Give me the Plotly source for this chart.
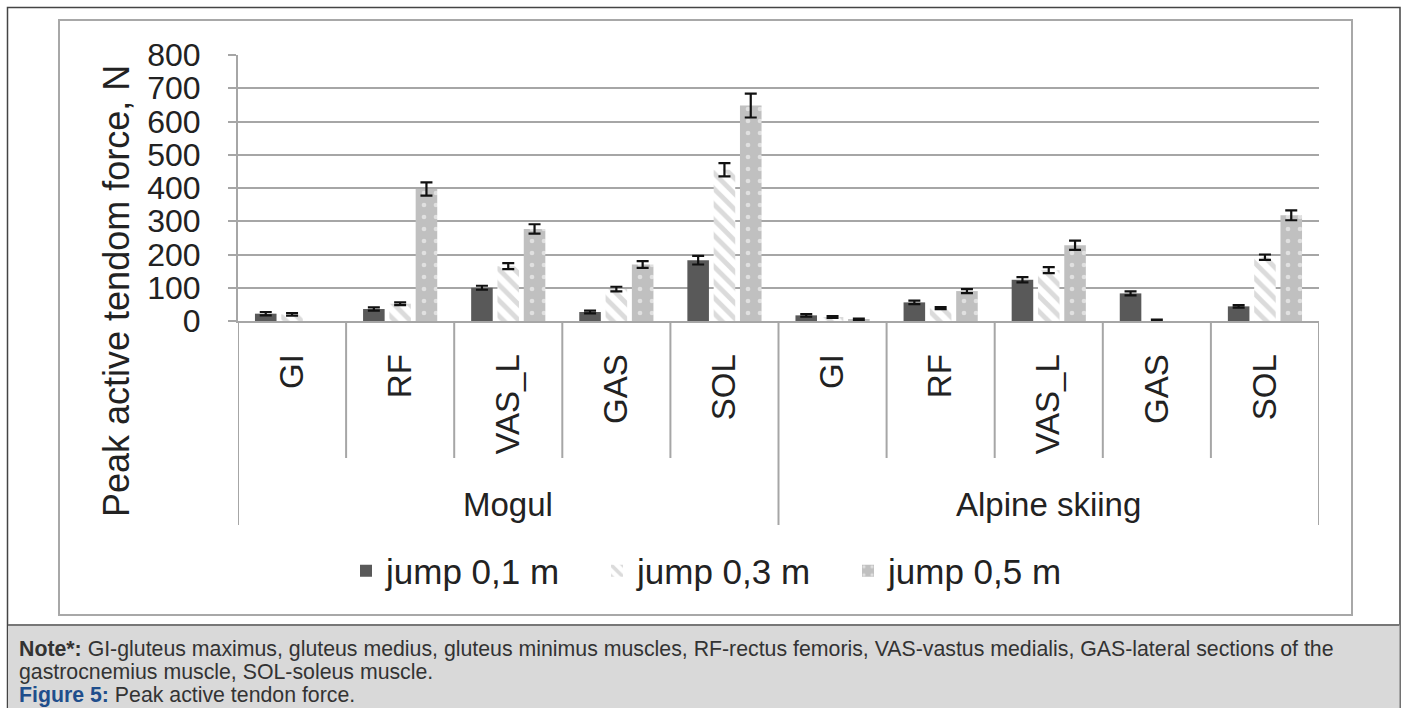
import plotly.graph_objects as go

# ---- data ----
groups = ["Mogul", "Alpine skiing"]
muscles = ["GI", "RF", "VAS_L", "GAS", "SOL"]
categories = muscles + muscles
series_names = ["jump 0,1 m", "jump 0,3 m", "jump 0,5 m"]

jump_01 = [22, 36, 100, 27, 183, 17, 56, 124, 83, 44]
jump_03 = [20, 52, 165, 96, 455, 12, 39, 153, 3, 192]
jump_05 = [None, 397, 277, 170, 648, 5, 90, 228, None, 318]

err_01 = [5, 5, 6, 4, 13, 4, 5, 8, 6, 4]
err_03 = [4, 4, 9, 7, 20, 3, 3, 9, 1, 8]
err_05 = [0, 20, 14, 10, 36, 2, 6, 14, 0, 15]

y_ticks = [0, 100, 200, 300, 400, 500, 600, 700, 800]

# ---- layout geometry (pixels) ----
W, H = 1402, 708
PL, PR, PT, PB = 238, 1319, 55, 321  # plot area


def px2x(px):
    return (px - PL) / (PR - PL)


def py2y(py):
    return (PB - py) / (PB - PT)


FONT = "Liberation Sans, Arial, sans-serif"
TXT = "#222222"
GRID = "#a6a6a6"

xpos = list(range(len(categories)))
ERR = dict(type="data", color="#111111", thickness=2.2, width=6)

fig = go.Figure()

fig.add_trace(go.Bar(
    name=series_names[0], x=xpos, y=jump_01,
    marker=dict(color="#595959", line=dict(width=0)),
    error_y=dict(ERR, array=err_01),
))
fig.add_trace(go.Bar(
    name=series_names[1], x=xpos, y=jump_03,
    marker=dict(color="#ffffff", line=dict(width=0),
                pattern=dict(shape="\\", bgcolor="#ffffff", fgcolor="#b8b8b8",
                             size=11, solidity=0.45)),
    error_y=dict(ERR, array=err_03),
))
fig.add_trace(go.Bar(
    name=series_names[2], x=xpos, y=jump_05,
    marker=dict(color="#c0c0c0", line=dict(width=0),
                pattern=dict(shape=".", bgcolor="#c0c0c0", fgcolor="#ffffff",
                             size=12, solidity=0.12)),
    error_y=dict(ERR, array=err_05),
))

shapes = []
# outer figure border
shapes.append(dict(type="rect", xref="paper", yref="paper",
                   x0=px2x(7.5), x1=px2x(1400), y0=py2y(7.5), y1=py2y(720),
                   line=dict(color="#444444", width=1.5), fillcolor="rgba(0,0,0,0)",
                   layer="below"))
# caption background
shapes.append(dict(type="rect", xref="paper", yref="paper",
                   x0=px2x(8), x1=px2x(1399.5), y0=py2y(625), y1=py2y(720),
                   line=dict(width=0), fillcolor="#d9d9d9", layer="below"))
shapes.append(dict(type="line", xref="paper", yref="paper",
                   x0=px2x(8), x1=px2x(1399.5), y0=py2y(625), y1=py2y(625),
                   line=dict(color="#777777", width=2), layer="below"))
# inner chart frame
shapes.append(dict(type="rect", xref="paper", yref="paper",
                   x0=px2x(59), x1=px2x(1352), y0=py2y(20), y1=py2y(615),
                   line=dict(color="#a8a8a8", width=2), fillcolor="rgba(0,0,0,0)",
                   layer="below"))
# category separators
for k in range(len(categories) + 1):
    xb = k - 0.5
    long = (k % len(muscles) == 0)
    shapes.append(dict(type="line", xref="x", yref="paper",
                       x0=xb, x1=xb, y0=0, y1=py2y(525 if long else 458),
                       line=dict(color=GRID, width=2), layer="above"))

annotations = []
for gi, g in enumerate(groups):
    annotations.append(dict(text=g, xref="x", yref="paper",
                            x=gi * len(muscles) + (len(muscles) - 1) / 2, y=py2y(504),
                            xanchor="center", yanchor="middle", showarrow=False,
                            font=dict(family=FONT, size=33, color=TXT)))
# y axis title
annotations.append(dict(text="Peak active tendom force, N", xref="paper", yref="paper",
                        x=px2x(116), y=py2y(291), textangle=-90,
                        xanchor="center", yanchor="middle", showarrow=False,
                        font=dict(family=FONT, size=36, color=TXT)))
# caption
cap_font = dict(family=FONT, size=21.3, color="#333333")
annotations.append(dict(
    text="<b>Note*:</b> GI-gluteus maximus, gluteus medius, gluteus minimus muscles, RF-rectus femoris, VAS-vastus medialis, GAS-lateral sections of the",
    xref="paper", yref="paper", x=px2x(17), y=py2y(649), xanchor="left", yanchor="middle",
    showarrow=False, font=cap_font))
annotations.append(dict(
    text="gastrocnemius muscle, SOL-soleus muscle.",
    xref="paper", yref="paper", x=px2x(17), y=py2y(672), xanchor="left", yanchor="middle",
    showarrow=False, font=cap_font))
annotations.append(dict(
    text="<b><span style='color:#1f4e8c'>Figure 5:</span></b> Peak active tendon force.",
    xref="paper", yref="paper", x=px2x(17), y=py2y(695), xanchor="left", yanchor="middle",
    showarrow=False, font=cap_font))

fig.update_layout(
    width=W, height=H,
    margin=dict(l=PL, r=W - PR, t=PT, b=H - PB, pad=0),
    paper_bgcolor="#ffffff", plot_bgcolor="#ffffff",
    barmode="group", bargap=0.27, bargroupgap=0.18,
    font=dict(family=FONT, color=TXT),
    shapes=shapes, annotations=annotations,
    showlegend=True,
    legend=dict(orientation="h", xref="container", yref="container",
                x=346 / W, y=1 - 571 / H, xanchor="left", yanchor="middle",
                font=dict(family=FONT, size=35, color=TXT),
                bgcolor="rgba(0,0,0,0)", itemwidth=30,
                entrywidth=206, entrywidthmode="pixels"),
    xaxis=dict(range=[-0.5, len(categories) - 0.5], tickmode="array",
               tickvals=xpos, ticktext=categories, tickangle=-90,
               tickfont=dict(family=FONT, size=33, color=TXT),
               ticks="", showgrid=False, showline=True, linecolor=GRID, linewidth=2,
               ticklabelstandoff=18, zeroline=False, fixedrange=True),
    yaxis=dict(range=[0, 800], tickmode="array", tickvals=y_ticks,
               tickfont=dict(family=FONT, size=32, color=TXT),
               ticks="outside", ticklen=8, tickcolor=GRID, tickwidth=2,
               showgrid=True, gridcolor=GRID, gridwidth=2,
               showline=True, linecolor=GRID, linewidth=2,
               ticklabelstandoff=21, zeroline=False, fixedrange=True),
)

fig.write_html("out.html", config={"displayModeBar": False})
